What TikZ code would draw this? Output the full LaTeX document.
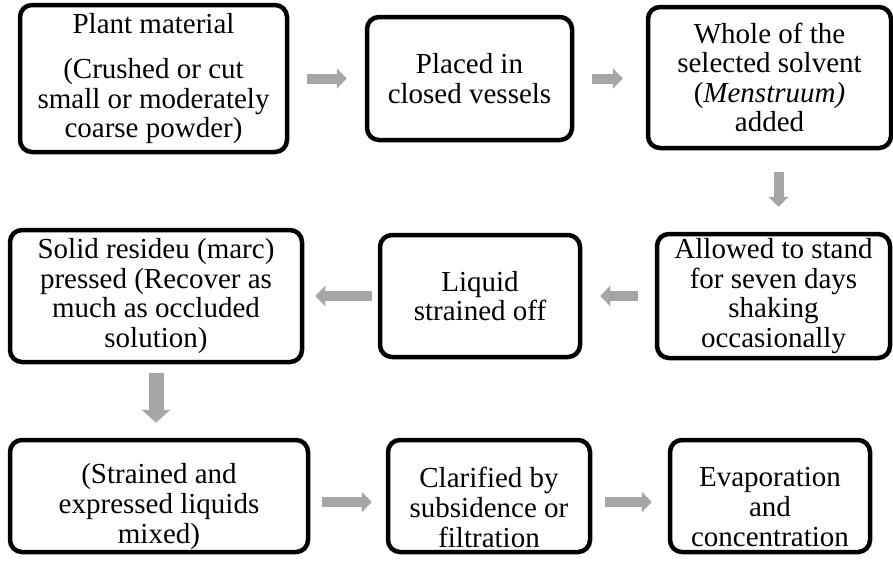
\documentclass[tikz,border=0pt]{standalone}
\usepackage{fontspec}
\setmainfont{Liberation Serif}
\usetikzlibrary{arrows.meta}
\tikzset{
  box/.style={draw=black, line width=4.5pt, rounded corners=12pt, align=center,
    inner sep=0pt, font=\fontsize{29}{29.5}\selectfont},
  txt/.style={align=center, inner sep=0pt, font=\fontsize{29}{30}\selectfont},
  flow/.style={draw=black!35, line width=10pt,
    -{Triangle[length=10pt,width=20pt]}},
  bigflow/.style={draw=black!35, line width=15pt,
    -{Triangle[length=13pt,width=28pt]}},
}
\begin{document}
\begin{tikzpicture}[x=1pt,y=-1pt]
\useasboundingbox (0,0) rectangle (893,562);
\node[box, minimum width=267pt, minimum height=147pt] (b1) at (153.5,78.5)
  {Plant material\\[16pt](Crushed or cut\\small or moderately\\coarse powder)};
\node[box, minimum width=205pt, minimum height=123pt] (b2) at (469.5,78.5)
  {Placed in\\closed vessels};
\node[box, minimum width=243pt, minimum height=141pt] (b3) at (769.5,77.5)
  {Whole of the\\selected solvent\\(\textit{Menstruum)}\\added};
\node[box, minimum width=233pt, minimum height=124pt] (b4) at (773.5,296)
  {Allowed to stand\\for seven days\\shaking\\occasionally};
\node[box, minimum width=200pt, minimum height=122pt] (b5) at (480,296)
  {Liquid\\strained off};
\node[box, minimum width=292pt, minimum height=132pt] (b6) at (156,296)
  {Solid resideu (marc)\\pressed (Recover as\\much as occluded\\solution)};
\node[box, minimum width=298pt, minimum height=112pt] (b7) at (159,496) {};
\node[box, minimum width=202pt, minimum height=112pt] (b8) at (489,496) {};
\node[box, minimum width=200pt, minimum height=112pt] (b9) at (770,496) {};
\node[txt] (t7) at ([yshift=-11pt]b7.center) {(Strained and\\expressed liquids\\mixed)};
\node[txt] (t8) at ([yshift=-11pt]b8.center) {Clarified by\\subsidence or\\filtration};
\node[txt] (t9) at ([yshift=-11pt]b9.center) {Evaporation\\and\\concentration};
\draw[flow, shorten <=18pt, shorten >=18pt] (b1.east |- b2.east) -- (b2.west);
\draw[flow, shorten <=18pt, shorten >=23pt] (b2.east) -- (b2.east -| b3.west);
\draw[flow, shorten <=22pt, shorten >=25pt] ([xshift=9pt]b3.south) -- ([xshift=9pt]b3.south |- b4.north);
\draw[flow, shorten <=17pt, shorten >=18pt] (b4.west) -- (b4.west -| b5.east);
\draw[flow, shorten <=6pt, shorten >=11pt] (b5.west) -- (b5.west -| b6.east);
\draw[bigflow, shorten <=9pt, shorten >=15pt] (b6.south) -- (b6.south |- b7.north);
\draw[flow, shorten <=12pt, shorten >=14pt] ([yshift=-6pt]b7.east) -- ([yshift=-6pt]b7.east -| b8.west);
\draw[flow, shorten <=13pt, shorten >=16pt] ([yshift=-6pt]b8.east) -- ([yshift=-6pt]b8.east -| b9.west);
\end{tikzpicture}
\end{document}
